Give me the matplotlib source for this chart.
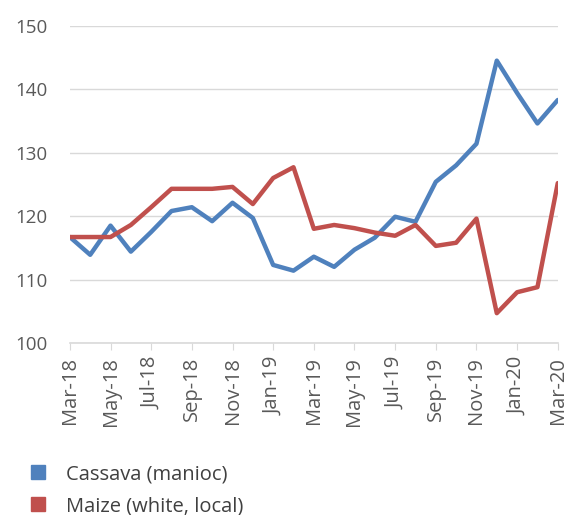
import matplotlib
matplotlib.use("Agg")
import matplotlib.pyplot as plt
from matplotlib.lines import Line2D

# monthly index values, Mar-18 .. Mar-20
months = ["Mar-18", "Apr-18", "May-18", "Jun-18", "Jul-18", "Aug-18", "Sep-18",
          "Oct-18", "Nov-18", "Dec-18", "Jan-19", "Feb-19", "Mar-19", "Apr-19",
          "May-19", "Jun-19", "Jul-19", "Aug-19", "Sep-19", "Oct-19", "Nov-19",
          "Dec-19", "Jan-20", "Feb-20", "Mar-20"]
cassava = [116.7, 113.9, 118.5, 114.4, 117.5, 120.8, 121.4, 119.2, 122.1, 119.7,
           112.3, 111.4, 113.6, 112.0, 114.7, 116.6, 119.9, 119.1, 125.4, 128.0,
           131.4, 144.5, 139.4, 134.6, 138.3]
maize = [116.7, 116.7, 116.7, 118.6, 121.4, 124.3, 124.3, 124.3, 124.6, 121.9,
         126.0, 127.7, 118.0, 118.6, 118.1, 117.4, 116.9, 118.6, 115.3, 115.8,
         119.6, 104.7, 108.0, 108.8, 125.2]
series_names = ["Cassava (manioc)", "Maize (white, local)"]
colors = ["#4F81BD", "#C0504D"]

txt = "#595959"
plt.rcParams['font.family'] = ['Open Sans', 'DejaVu Sans']

fig = plt.figure(figsize=(5.68, 5.15), dpi=100)
ax = fig.add_axes([0.123, 0.334, 0.859, 0.616])

x = list(range(len(months)))
for vals, c in zip([cassava, maize], colors):
    ax.plot(x, vals, color=c, lw=3.2, solid_joinstyle='round', solid_capstyle='round', zorder=3)

ax.set_xlim(0, len(months) - 1)
ax.set_ylim(100, 150)
ax.set_yticks(range(100, 151, 10))
ax.grid(axis='y', color='#D9D9D9', lw=1)
ax.set_axisbelow(True)

ax.set_xticks(x[::2])
ax.set_xticklabels(months[::2], rotation=90)

for s in ['top', 'right', 'left']:
    ax.spines[s].set_visible(False)
ax.spines['bottom'].set_color('#D9D9D9')
ax.spines['bottom'].set_linewidth(1.2)
ax.tick_params(axis='y', length=0, labelsize=13.5, colors=txt, pad=16)
ax.tick_params(axis='x', length=5, color='#D9D9D9', labelsize=14.5, colors=txt, pad=5)
for t in ax.get_xticklabels():
    t.set_color(txt)

handles = [Line2D([], [], marker='s', ls='none', markersize=10, color=c) for c in colors]
fig.legend(handles, series_names, loc='upper left', bbox_to_anchor=(0.035, 0.114),
           frameon=False, fontsize=14.5, labelcolor='#404040', handletextpad=0.9,
           handlelength=1.0, labelspacing=0.6, borderaxespad=0)

fig.savefig("out.png", dpi=100)
